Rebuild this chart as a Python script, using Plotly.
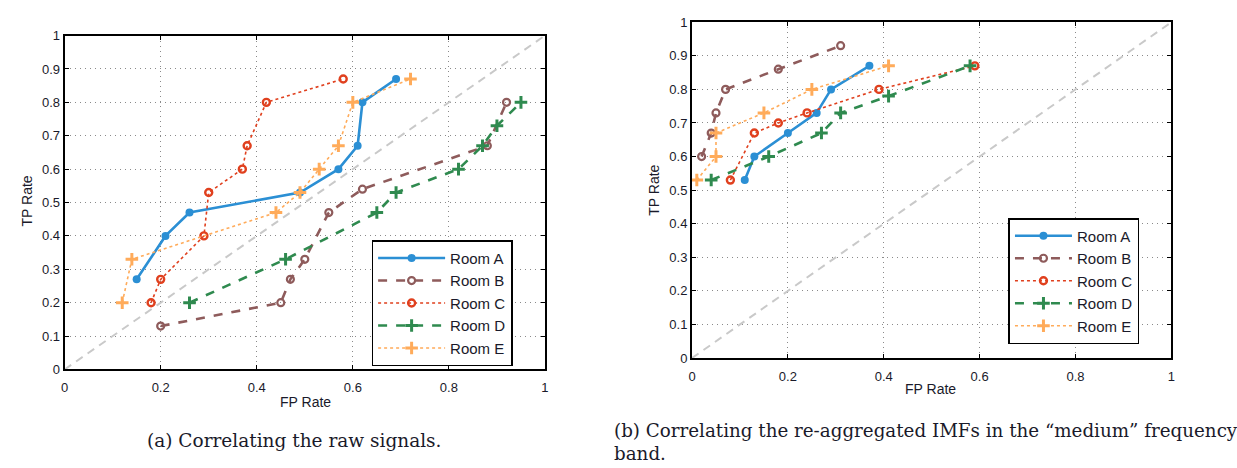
import plotly.graph_objects as go

# ---------------- data ----------------
rooms = ["Room A", "Room B", "Room C", "Room D", "Room E"]

# (a) raw signals
raw_fp = {
    "Room A": [0.15, 0.21, 0.26, 0.49, 0.57, 0.61, 0.62, 0.69],
    "Room B": [0.20, 0.45, 0.47, 0.50, 0.55, 0.62, 0.88, 0.92],
    "Room C": [0.18, 0.20, 0.29, 0.30, 0.37, 0.38, 0.42, 0.58],
    "Room D": [0.26, 0.46, 0.65, 0.69, 0.82, 0.87, 0.90, 0.95],
    "Room E": [0.12, 0.14, 0.44, 0.49, 0.53, 0.57, 0.60, 0.72],
}
raw_tp = {
    "Room A": [0.27, 0.40, 0.47, 0.53, 0.60, 0.67, 0.80, 0.87],
    "Room B": [0.13, 0.20, 0.27, 0.33, 0.47, 0.54, 0.67, 0.80],
    "Room C": [0.20, 0.27, 0.40, 0.53, 0.60, 0.67, 0.80, 0.87],
    "Room D": [0.20, 0.33, 0.47, 0.53, 0.60, 0.67, 0.73, 0.80],
    "Room E": [0.20, 0.33, 0.47, 0.53, 0.60, 0.67, 0.80, 0.87],
}

# (b) re-aggregated IMFs, medium band
imf_fp = {
    "Room A": [0.11, 0.13, 0.20, 0.26, 0.29, 0.37],
    "Room B": [0.02, 0.04, 0.05, 0.07, 0.18, 0.31],
    "Room C": [0.08, 0.13, 0.18, 0.24, 0.39, 0.59],
    "Room D": [0.04, 0.16, 0.27, 0.31, 0.41, 0.58],
    "Room E": [0.01, 0.05, 0.05, 0.15, 0.25, 0.41],
}
imf_tp = {
    "Room A": [0.53, 0.60, 0.67, 0.73, 0.80, 0.87],
    "Room B": [0.60, 0.67, 0.73, 0.80, 0.86, 0.93],
    "Room C": [0.53, 0.67, 0.70, 0.73, 0.80, 0.87],
    "Room D": [0.53, 0.60, 0.67, 0.73, 0.78, 0.87],
    "Room E": [0.53, 0.60, 0.67, 0.73, 0.80, 0.87],
}

chance_line = [0, 1]
x_ticks = [0, 0.2, 0.4, 0.6, 0.8, 1]
y_ticks = [0, 0.1, 0.2, 0.3, 0.4, 0.5, 0.6, 0.7, 0.8, 0.9, 1]

caption_a = "(a) Correlating the raw signals."
caption_b1 = "(b) Correlating the re-aggregated IMFs in the \u201cmedium\u201d frequency"
caption_b2 = "band."

# ---------------- styles ----------------
styles = {
    "Room A": dict(color="#2b8fd4", dash="solid", width=2.6,
                   symbol="circle", msize=8, mline=0),
    "Room B": dict(color="#8e5b5b", dash="dash", width=2.6,
                   symbol="circle-open", msize=7, mline=2.2),
    "Room C": dict(color="#e0401e", dash="dot", width=1.6,
                   symbol="circle-open", msize=7, mline=2.4),
    "Room D": dict(color="#2f8a4f", dash="dash", width=2.6,
                   symbol="cross-thin-open", msize=9, mline=3),
    "Room E": dict(color="#ffab5a", dash="dot", width=1.6,
                   symbol="cross-thin-open", msize=9, mline=3),
}

W, H = 1237, 468
FONT = "Liberation Sans, Arial, sans-serif"
SERIF = "DejaVu Serif, serif"
TXT = "#1a1a2a"

fig = go.Figure()

def add_panel(fp, tp, xa, ya, legend_name):
    fig.add_trace(go.Scatter(
        x=chance_line, y=chance_line, mode="lines",
        line=dict(color="#c9c9c9", width=2, dash="8px,6px"),
        showlegend=False, hoverinfo="skip", xaxis=xa, yaxis=ya))
    for r in rooms:
        s = styles[r]
        fig.add_trace(go.Scatter(
            x=fp[r], y=tp[r], name=r, mode="lines+markers",
            line=dict(color=s["color"], width=s["width"], dash=s["dash"]),
            marker=dict(symbol=s["symbol"], size=s["msize"], color=s["color"],
                        line=dict(color=s["color"], width=s["mline"])),
            legend=legend_name, legendgroup=legend_name + r,
            xaxis=xa, yaxis=ya))

add_panel(raw_fp, raw_tp, "x", "y", "legend")
add_panel(imf_fp, imf_tp, "x2", "y2", "legend2")

def px_x(p):
    return p / W

def px_y(p):
    return 1 - p / H

axis_common = dict(
    range=[0, 1], showline=True, linecolor="black", linewidth=2, mirror="ticks",
    ticks="inside", ticklen=4, tickcolor="black", tickwidth=1,
    showgrid=True, gridcolor="#8a8a8a", gridwidth=1, griddash="1px,4px",
    zeroline=False, tickfont=dict(family=FONT, size=13, color=TXT),
    fixedrange=True,
)

fig.update_layout(
    width=W, height=H, margin=dict(l=0, r=0, t=0, b=0),
    paper_bgcolor="white", plot_bgcolor="white",
    xaxis=dict(domain=[px_x(61), px_x(544.5)], anchor="y", tickvals=x_ticks,
               ticklabelstandoff=5, **axis_common),
    yaxis=dict(domain=[px_y(374.5), px_y(29.5)], anchor="x", tickvals=y_ticks,
               ticklabelstandoff=0, **axis_common),
    xaxis2=dict(domain=[px_x(692.5), px_x(1175)], anchor="y2", tickvals=x_ticks,
                ticklabelstandoff=5, **axis_common),
    yaxis2=dict(domain=[px_y(362.7), px_y(15.7)], anchor="x2", tickvals=y_ticks,
                ticklabelstandoff=0, **axis_common),
    legend=dict(x=px_x(370), y=px_y(241), xanchor="left", yanchor="top",
                bgcolor="white", bordercolor="black", borderwidth=1.5,
                font=dict(family=FONT, size=15, color=TXT),
                itemwidth=67, tracegroupgap=0, traceorder="grouped"),
    legend2=dict(x=px_x(1011), y=px_y(218), xanchor="left", yanchor="top",
                 bgcolor="white", bordercolor="black", borderwidth=1.5,
                 font=dict(family=FONT, size=15, color=TXT),
                 itemwidth=57, tracegroupgap=0, traceorder="grouped"),
    showlegend=True,
)

def note(text, x, y, size, family=FONT, angle=0, xanchor="center"):
    return dict(text=text, x=px_x(x), y=px_y(y), xref="paper", yref="paper",
                xanchor=xanchor, yanchor="middle", textangle=angle,
                showarrow=False, font=dict(family=family, size=size, color=TXT))

ann = [
    note("FP Rate", 303, 408, 14),
    note("TP Rate", 23, 200, 14, angle=-90),
    note("FP Rate", 933, 395, 14),
    note("TP Rate", 654, 189, 14, angle=-90),
    note(caption_a, 292, 448, 18.5, family=SERIF),
    note(caption_b1, 612, 438, 18.3, family=SERIF, xanchor="left"),
    note(caption_b2, 612, 461, 18.3, family=SERIF, xanchor="left"),
]
fig.update_layout(annotations=ann)

fig.write_html(
    "out.html",
    config={"displayModeBar": False},
    post_script="document.body.style.margin='0px';document.body.style.overflow='hidden';",
)
